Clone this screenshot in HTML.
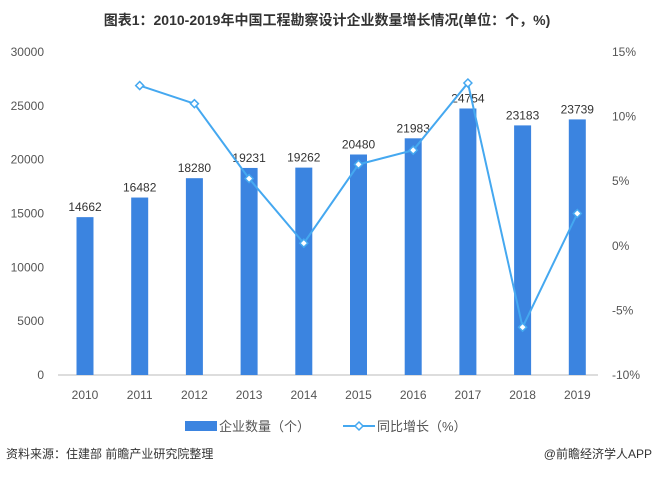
<!DOCTYPE html>
<html><head><meta charset="utf-8">
<style>
body{margin:0;background:#fff;width:655px;height:475px;overflow:hidden;font-family:"Liberation Sans","Noto Sans CJK SC",sans-serif;}
svg text{font-family:"Liberation Sans","Noto Sans CJK SC",sans-serif;}
</style></head>
<body>
<svg id="chart" width="655" height="475">
<text x="327" y="25" text-anchor="middle" font-size="14" font-weight="bold" fill="#333">图表1：2010-2019年中国工程勘察设计企业数量增长情况(单位：个，%)</text>
<g id="axes"></g>
<g id="bars"></g>
<g id="line"></g>
<g>
<rect x="185" y="421" width="32" height="10" fill="#3b84e0"/>
<text x="219" y="431" font-size="13" fill="#555">企业数量（个）</text>
<line x1="343" y1="426" x2="375" y2="426" stroke="#45a8f0" stroke-width="2"/>
<path d="M359 422 L363 426 L359 430 L355 426 Z" fill="#fff" stroke="#45a8f0" stroke-width="1.5"/>
<text x="377" y="431" font-size="13" fill="#555">同比增长（%）</text>
</g>
<text x="6" y="458" font-size="12" fill="#333">资料来源：住建部 前瞻产业研究院整理</text>
<text x="652" y="458" text-anchor="end" font-size="12" fill="#333">@前瞻经济学人APP</text>
</svg>
<script>
const years=["2010","2011","2012","2013","2014","2015","2016","2017","2018","2019"];
const counts=[14662,16482,18280,19231,19262,20480,21983,24754,23183,23739];
const growth=[null,12.4,11.0,5.2,0.2,6.3,7.4,12.6,-6.3,2.5];
const leftTicks=[0,5000,10000,15000,20000,25000,30000];
const rightTicks=[-10,-5,0,5,10,15];
const NS="http://www.w3.org/2000/svg";
const yTop=52,yBot=375,x0=85,dx=54.7;
const yL=v=>yBot-(v/30000)*(yBot-yTop);
const yR=v=>yBot-((v+10)/25)*(yBot-yTop);
const xc=i=>x0+i*dx;
function mk(tag,attrs,parent,txt){const e=document.createElementNS(NS,tag);for(const k in attrs)e.setAttribute(k,attrs[k]);if(txt!==undefined)e.textContent=txt;parent.appendChild(e);return e;}
const ax=document.getElementById('axes'),bg=document.getElementById('bars'),lg=document.getElementById('line');
const base=mk('line',{x1:58,x2:598,y1:yBot,y2:yBot,stroke:'#bbb'},ax);


leftTicks.forEach(t=>{const e=mk('text',{x:44,y:yL(t)+4,'text-anchor':'end','font-size':12,fill:'#555'},ax,String(t));

});
rightTicks.forEach(t=>{const e=mk('text',{x:612,y:yR(t)+4,'font-size':12,fill:'#555'},ax,t+'%');

});
years.forEach((y,i)=>{const e=mk('text',{x:xc(i),y:399,'text-anchor':'middle','font-size':12,fill:'#555'},ax,y);

});
counts.forEach((v,i)=>{const r=mk('rect',{x:xc(i)-8.5,y:yL(v),width:17,height:yBot-yL(v),fill:'#3b84e0'},bg);


const t=mk('text',{x:xc(i),y:yL(v)-6,'text-anchor':'middle','font-size':12,fill:'#333'},bg,String(v));

});
const pts=[];growth.forEach((g,i)=>{if(g!==null)pts.push([xc(i),yR(g)]);});
const pl=mk('polyline',{points:pts.map(p=>p.join(',')).join(' '),fill:'none',stroke:'#45a8f0','stroke-width':2},lg);


pts.forEach(p=>{const m=mk('path',{d:`M${p[0]} ${p[1]-4} L${p[0]+4} ${p[1]} L${p[0]} ${p[1]+4} L${p[0]-4} ${p[1]} Z`,fill:'#fff',stroke:'#45a8f0','stroke-width':1.5},lg);

});
</script>
</body></html>
